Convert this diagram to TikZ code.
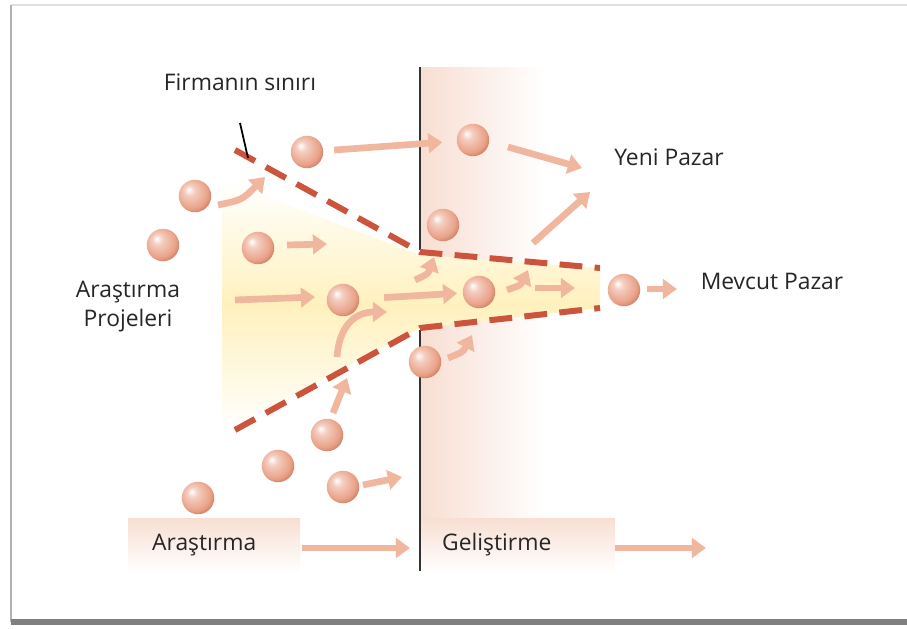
\documentclass[tikz,border=0pt]{standalone}
\usepackage{fontspec}
\setmainfont{Open Sans}
\usetikzlibrary{arrows.meta,positioning}

\definecolor{kurec}{RGB}{230,146,116}
\definecolor{okc}{RGB}{240,182,158}
\definecolor{kesikc}{RGB}{204,84,60}
\definecolor{pembec}{RGB}{248,222,210}
\definecolor{saric}{RGB}{255,241,190}

\pgfdeclareradialshading{kureshade}{\pgfpoint{-10bp}{10bp}}{color(0bp)=(white); color(8bp)=(kurec!45!white); color(24bp)=(kurec!85!white); color(30bp)=(kurec!90!black); color(50bp)=(kurec!90!black)}

\tikzset{
   kure/.style={circle, minimum size=18.5pt, inner sep=0pt, shading=kureshade},
   akis/.style={draw=okc, line width=3.8pt, -{Triangle[width=11pt,length=8pt]}},
   sinir/.style={draw=kesikc, line width=3.4pt, dash pattern=on 13pt off 7pt},
   etiket/.style={text=black!85}
}

\begin{document}
\begin{tikzpicture}[x=0.02cm,y=-0.02cm,font=\fontsize{13}{16.5}\selectfont]

   \useasboundingbox (0,0) rectangle (907,629);
   \fill [white] (0,0) rectangle (907,629);

   \draw [black!12, line width=1.5pt] (11,5) -- (907,5);
   \draw [black!30, line width=1.5pt] (11,5) -- (11,622);
   \draw [black!50, line width=3pt] (11,622) -- (907,622);

   \shade [left color=pembec, right color=white] (420,67) rectangle (545,530);
   \shade [top color=pembec, bottom color=white] (420,518) rectangle (615,572);
   \shade [top color=pembec, bottom color=white] (128,518) rectangle (300,572);

   \shade [top color=white, bottom color=white, middle color=saric]
      (222,180) -- (420,255) -- (600,268) -- (600,308) -- (420,328) -- (222,432) -- cycle;

   \draw [black!80, line width=1.3pt] (420,67) -- (420,250);
   \draw [black!80, line width=1.3pt] (420,330) -- (420,571);

   \draw [sinir] (235,150) -- (420,252) -- (600,268);
   \draw [sinir] (235,430) -- (420,328) -- (600,308);

   \node [etiket] (sinirlbl) at (240,82) {Firmanın sınırı};
   \coordinate (isaret) at (248,158);
   \draw [black, line width=1pt] (240,123) -- (isaret);

   \node [kure] (b1) at (307,152) {};
   \node [kure] (b2) at (195,196) {};
   \node [kure] (b3) at (163,245) {};
   \node [kure] (b4) at (258,248) {};
   \node [kure] (b5) at (343,300) {};
   \node [kure] (b6) at (473,140) {};
   \node [kure] (b7) at (443,225) {};
   \node [kure] (b8) at (479,292) {};
   \node [kure] (b9) at (425,362) {};
   \node [kure] (b10) at (624,290) {};
   \node [kure] (b11) at (327,435) {};
   \node [kure] (b12) at (278,466) {};
   \node [kure] (b13) at (343,487) {};
   \node [kure] (b14) at (198,498) {};

   \draw [akis, shorten <=6pt, shorten >=8pt] (b1) -- (b6);
   \draw [akis] (218,205) .. controls (242,200) .. (265,177);
   \draw [akis] (287,245) -- (327,244);
   \draw [akis] (235,300) -- (315,297);
   \draw [akis, shorten <=14pt, shorten >=3pt] (b5) -- (b8);
   \draw [akis] (415,280) .. controls (428,274) .. (434,257);
   \draw [akis] (337,357) .. controls (340,320) and (360,312) .. (387,312);
   \draw [akis] (333,413) -- (347,378);
   \draw [akis] (363,485) -- (402,477);
   \draw [akis] (448,358) .. controls (463,352) .. (472,335);
   \draw [akis] (508,147) -- (582,168);
   \draw [akis] (533,243) -- (590,192);
   \draw [akis] (507,290) .. controls (521,285) .. (528,270);
   \draw [akis] (535,288) -- (575,288);
   \draw [akis] (647,289) -- (677,289);

   \node [etiket] (yeni) at (669,157) {Yeni Pazar};
   \node [etiket] (mevcut) at (772,281) {Mevcut Pazar};
   \node [etiket, align=center] (projeler) at (128,307) {Araştırma\\Projeleri};

   \node [etiket, anchor=west] (arastirma) at (146,545) {Araştırma};
   \node [etiket, anchor=west] (gelistirme) at (436,545) {Geliştirme};
   \draw [akis] (302,548) -- (410,548);
   \draw [akis] (615,548) -- (706,548);

\end{tikzpicture}
\end{document}
